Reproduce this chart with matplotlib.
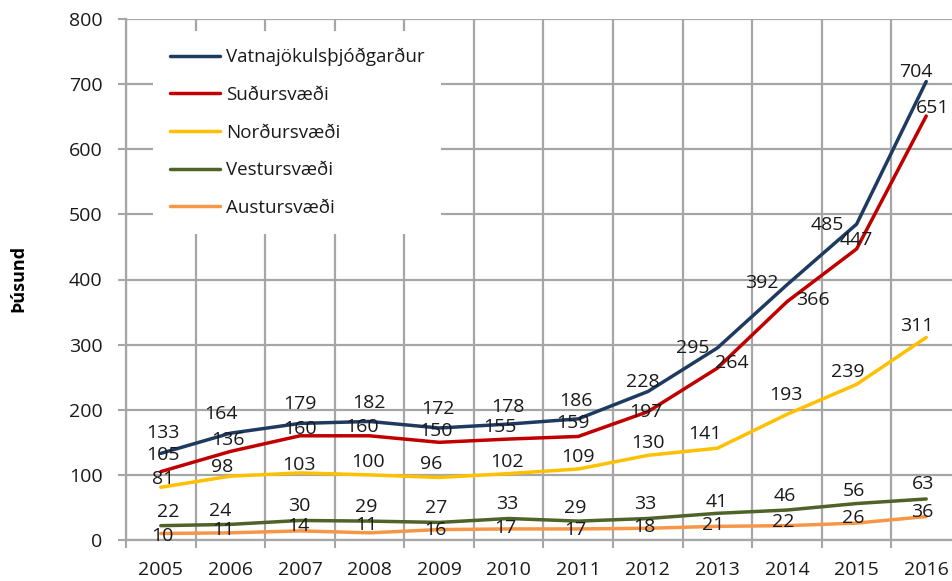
import numpy as np
import matplotlib.pyplot as plt

years = ['2005', '2006', '2007', '2008', '2009', '2010', '2011', '2012',
         '2013', '2014', '2015', '2016']
vatnajokull = [133, 164, 179, 182, 172, 178, 186, 228, 295, 392, 485, 704]
sudur = [105, 136, 160, 160, 150, 155, 159, 197, 264, 366, 447, 651]
nordur = [81, 98, 103, 100, 96, 102, 109, 130, 141, 193, 239, 311]
vestur = [22, 24, 30, 29, 27, 33, 29, 33, 41, 46, 56, 63]
austur = [10, 11, 14, 11, 16, 17, 17, 18, 21, 22, 26, 36]

names = ['Vatnajökulsþjóðgarður', 'Suðursvæði', 'Norðursvæði',
         'Vestursvæði', 'Austursvæði']
series = [vatnajokull, sudur, nordur, vestur, austur]
colors = ['#1F3A60', '#C00000', '#FFC000', '#4F6228', '#F79646']

# label offsets in pixels (dx, dy), dy positive = upwards
offsets = [
    [(2, 20), (-9, 19), (0, 19), (-1, 18), (-1, 19), (-1, 17), (-2, 18),
     (-5, 10), (-25, 0), (-25, 2), (-29, -1), (-10, 10)],
    [(2, 17), (-2, 11), (0, 7), (-8, 9), (-3, 11), (-9, 12), (-5, 13),
     (-2, 0), (14, 5), (26, 2), (0, 9), (6, 8)],
    [(2, 8), (-8, 9), (-1, 8), (-2, 13), (-8, 13), (-2, 12), (0, 12),
     (0, 12), (-13, 14), (-1, 19), (-9, 12), (-9, 11)],
    [(7, 14), (-10, 13), (-1, 14), (-3, 14), (-3, 14), (-2, 15), (-3, 13),
     (-3, 15), (-1, 11), (-2, 14), (-3, 13), (-3, 15)],
    [(2, -3), (-7, 3), (-2, 5), (-3, 8), (-4, 0), (-3, 1), (-3, -1),
     (-4, 1), (-4, 1), (-4, 4), (-3, 5), (-4, 5)],
]

plt.rcParams['font.family'] = ['Open Sans', 'DejaVu Sans']
fs = 14
txt_c = '#1A1A1A'

W, H = 953, 581
fig = plt.figure(figsize=(W / 100, H / 100), dpi=100)
ax = fig.add_axes([126 / W, 1 - 540 / H, (961 - 126) / W, (540 - 19) / H])

x = np.arange(len(years))
for vals, name, c in zip(series, names, colors):
    ax.plot(x, vals, color=c, lw=2.5, label=name, solid_capstyle='round',
            solid_joinstyle='round', zorder=3)

grid_c = '#A6A6A6'
ax.set_xlim(-0.5, len(years) - 0.5)
ax.set_ylim(0, 800)
ax.set_yticks(range(0, 801, 100))
ax.set_xticks(np.arange(len(years) + 1) - 0.5)
ax.set_xticklabels([])
ax.set_xticks(x, minor=True)
ax.set_xticklabels(years, minor=True)
ax.tick_params(axis='x', which='major', length=6, width=1.5, color=grid_c)
ax.tick_params(axis='x', which='minor', length=0, pad=15, labelsize=fs,
               labelcolor=txt_c)
ax.tick_params(axis='y', length=6, width=1.5, color=grid_c, pad=11,
               labelsize=fs, labelcolor=txt_c)
ax.grid(True, which='major', color=grid_c, lw=1.6, zorder=0)
ax.set_axisbelow(True)
for s in ['top', 'right']:
    ax.spines[s].set_visible(False)
for s in ['left', 'bottom']:
    ax.spines[s].set_color(grid_c)
    ax.spines[s].set_linewidth(1.6)

for vals, offs in zip(series, offsets):
    for xi, v, (dx, dy) in zip(x, vals, offs):
        ax.annotate(str(v), (xi, v), xytext=(dx * 0.72, dy * 0.72),
                    textcoords='offset points', ha='center', va='center',
                    fontsize=fs, color=txt_c, zorder=4)

leg = ax.legend(loc='upper left', bbox_to_anchor=(153 / W, 1 - 31 / H),
                bbox_transform=fig.transFigure, frameon=True, fancybox=False,
                edgecolor='none', facecolor='white', framealpha=1,
                fontsize=13.5, handlelength=2.68, handletextpad=0.3,
                labelspacing=1.05, borderpad=0.9, borderaxespad=0)
leg.set_zorder(5)
for t in leg.get_texts():
    t.set_color(txt_c)

fig.text(18 / W, 1 - 278 / H, 'Þúsund', rotation=90, ha='center',
         va='center', fontsize=13, fontweight='bold')

fig.savefig('out.png', dpi=100)
